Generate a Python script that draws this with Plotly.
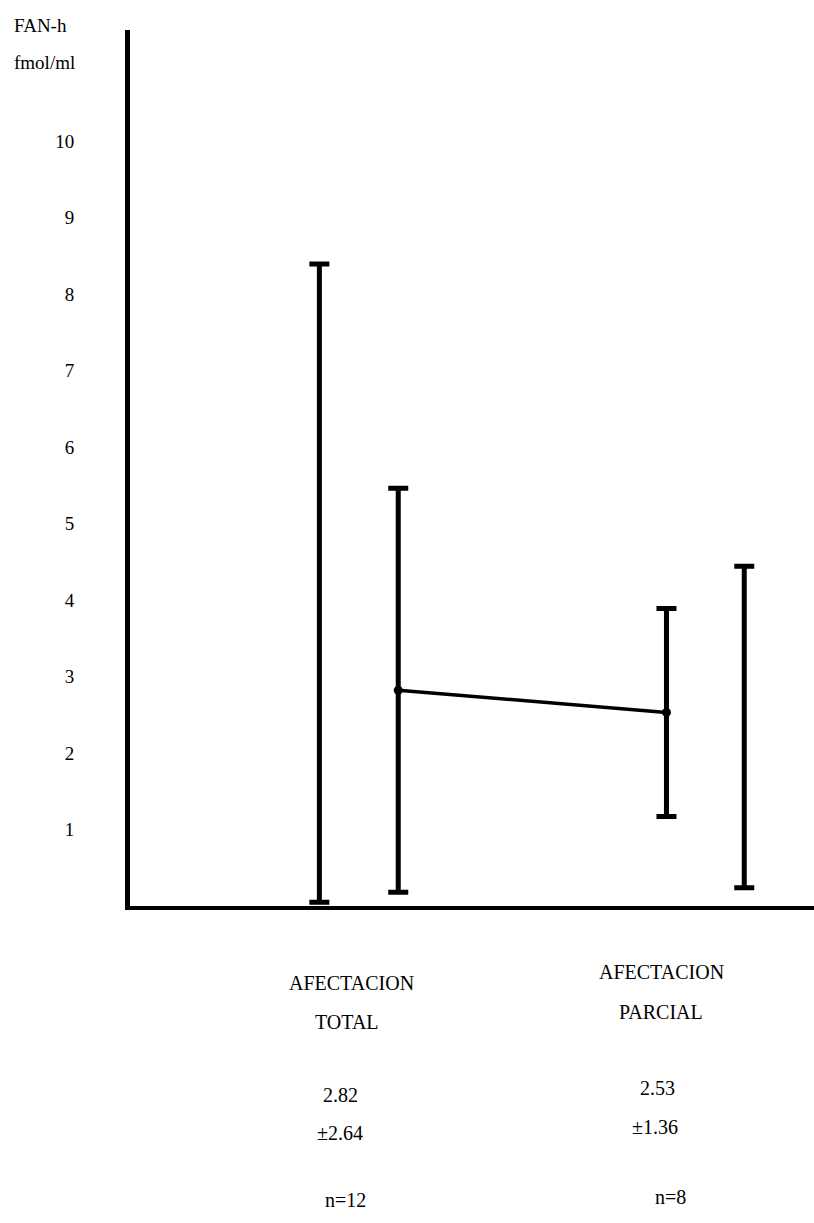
import plotly.graph_objects as go

# ---- data ----
groups_line1 = ["AFECTACION", "AFECTACION"]
groups_line2 = ["TOTAL", "PARCIAL"]
means = [2.82, 2.53]
sds = [2.64, 1.36]
ns = [12, 8]
range_min = [0.05, 0.24]
range_max = [8.39, 4.44]
y_ticks = [1, 2, 3, 4, 5, 6, 7, 8, 9, 10]
y_title = ["FAN-h", "fmol/ml"]

# ---- layout constants ----
W, H = 814, 1223
L, R, T, B = 130, 0, 30, 317
mean_x = [1.0, 2.0]
range_x = [0.706, 2.29]
x_range = [0, 2.55]
y_range = [0, 11.45]
FONT = "Liberation Serif"

plot_w = W - L - R
plot_h = H - T - B


def px(xp):
    return (xp - L) / plot_w


def py(yp):
    return (H - B - yp) / plot_h


fig = go.Figure()

# range bars (min - max)
fig.add_trace(go.Scatter(
    x=range_x,
    y=[(a + b) / 2 for a, b in zip(range_min, range_max)],
    mode="markers",
    marker=dict(size=1, color="rgba(0,0,0,0)"),
    error_y=dict(type="data", symmetric=True,
                 array=[(b - a) / 2 for a, b in zip(range_min, range_max)],
                 color="black", thickness=5, width=10),
    hoverinfo="skip", showlegend=False,
))

# mean +/- SD with connecting line
fig.add_trace(go.Scatter(
    x=mean_x, y=means,
    mode="lines+markers",
    line=dict(color="black", width=3.5),
    marker=dict(size=9, color="black"),
    error_y=dict(type="data", array=sds, color="black", thickness=5, width=10),
    showlegend=False,
))

annotations = []
# y-axis title lines
for txt, yp in zip(y_title, [25, 62]):
    annotations.append(dict(x=px(12), y=py(yp), xref="paper", yref="paper",
                            text=txt, showarrow=False, xanchor="left",
                            yanchor="middle",
                            font=dict(family=FONT, size=19, color="black")))

# group labels and statistics
pos = [
    dict(l1=(351, 983), l2=(347, 1022), m=(340, 1095), s=(340, 1133), n=(345, 1200)),
    dict(l1=(661, 972), l2=(661, 1012), m=(657, 1088), s=(655, 1127), n=(670, 1197)),
]
for i in range(2):
    p = pos[i]
    texts = [
        (groups_line1[i], p["l1"]),
        (groups_line2[i], p["l2"]),
        (f"{means[i]:.2f}", p["m"]),
        (f"±{sds[i]:.2f}", p["s"]),
        (f"n={ns[i]}", p["n"]),
    ]
    for txt, (xp, yp) in texts:
        annotations.append(dict(x=px(xp), y=py(yp), xref="paper", yref="paper",
                                text=txt, showarrow=False, xanchor="center",
                                yanchor="middle",
                                font=dict(family=FONT, size=20, color="black")))

fig.update_layout(
    width=W, height=H,
    margin=dict(l=L, r=R, t=T, b=B, pad=0),
    paper_bgcolor="white", plot_bgcolor="white",
    xaxis=dict(range=x_range, showgrid=False, zeroline=False,
               showline=True, linecolor="black", linewidth=4,
               showticklabels=False, ticks=""),
    yaxis=dict(range=y_range, showgrid=False, zeroline=False,
               showline=True, linecolor="black", linewidth=5,
               tickvals=y_ticks, ticktext=[str(v) for v in y_ticks],
               ticks="", ticklabelstandoff=47,
               tickfont=dict(family=FONT, size=19, color="black")),
    annotations=annotations,
)

fig.write_html("out.html")
